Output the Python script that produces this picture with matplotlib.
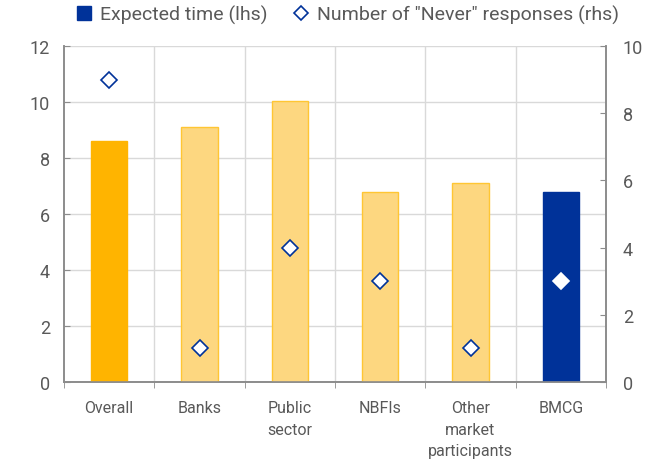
import matplotlib
matplotlib.use("Agg")
import matplotlib.pyplot as plt
from matplotlib.lines import Line2D
import numpy as np

plt.rcParams['font.family'] = ['Roboto', 'DejaVu Sans']

categories = ["Overall", "Banks", "Public\nsector", "NBFIs", "Other\nmarket\nparticipants", "BMCG"]
expected_time = [8.6, 9.1, 10.05, 6.8, 7.1, 6.8]
never_responses = [9, 1, 4, 3, 1, 3]

face_colors = ["#FFB400", "#FDD780", "#FDD780", "#FDD780", "#FDD780", "#003299"]
edge_colors = ["#FFB400", "#FFC633", "#FFC633", "#FFC633", "#FFC633", "#003299"]
txt = "#595959"
spine = "#8C8C8C"

fig = plt.figure(figsize=(6.5, 4.6), dpi=100)
ax = fig.add_axes([64/650, 1-383/460, (606-64)/650, (383-47)/460])
ax2 = ax.twinx()

x = np.arange(len(categories))
ax.bar(x, expected_time, width=0.4, color=face_colors, edgecolor=edge_colors, linewidth=1.0, zorder=3)
ax.set_xlim(-0.5, len(categories)-0.5)
ax.set_ylim(0, 12)
ax.set_yticks(range(0, 13, 2))
ax2.set_ylim(0, 10)
ax2.set_yticks(range(0, 11, 2))

for xi, v, c in zip(x, never_responses, categories):
    ec = "white" if c == "BMCG" else "#003299"
    ax2.plot([xi], [v], marker="D", markersize=8, markerfacecolor="white",
             markeredgecolor=ec, markeredgewidth=1.2, linestyle="none", zorder=4)

# grid
for yv in range(0, 13, 2):
    ax.axhline(yv, color="#D9D9D9", linewidth=1.0, zorder=0)
for b in np.arange(0.5, len(categories)-0.5, 1):
    ax.axvline(b, color="#D9D9D9", linewidth=1.0, zorder=0)

ax.set_xticks(x)
ax.set_xticklabels(categories, color=txt, fontsize=11.5, linespacing=1.55)
ax.tick_params(axis="x", length=0, pad=13)
ax.set_xticks(np.arange(-0.5, len(categories), 1), minor=True)
ax.tick_params(axis="x", which="minor", length=4, direction="out", color=spine)

ax.tick_params(axis="y", direction="in", length=4, color=spine, labelcolor=txt, labelsize=13, pad=10)
ax2.tick_params(axis="y", direction="in", length=4, color=spine, labelcolor=txt, labelsize=13, pad=12)

for a in (ax, ax2):
    a.spines["top"].set_visible(False)
    for s in ("left", "right", "bottom"):
        a.spines[s].set_color(spine)
        a.spines[s].set_linewidth(1.2)

handles = [
    Line2D([0], [0], marker="s", color="none", markerfacecolor="#003299", markeredgecolor="#003299", markersize=9.5),
    Line2D([0], [0], marker="D", color="none", markerfacecolor="white", markeredgecolor="#003299", markeredgewidth=1.2, markersize=7),
]
leg = fig.legend(handles, ['Expected time (lhs)', 'Number of "Never" responses (rhs)'],
                 loc="center", bbox_to_anchor=(348/650, 1-15/460), ncol=2, frameon=False,
                 fontsize=14, handlelength=0.7, handletextpad=0.45, columnspacing=1.4)
for t in leg.get_texts():
    t.set_color(txt)

fig.savefig("out.png", dpi=100)
